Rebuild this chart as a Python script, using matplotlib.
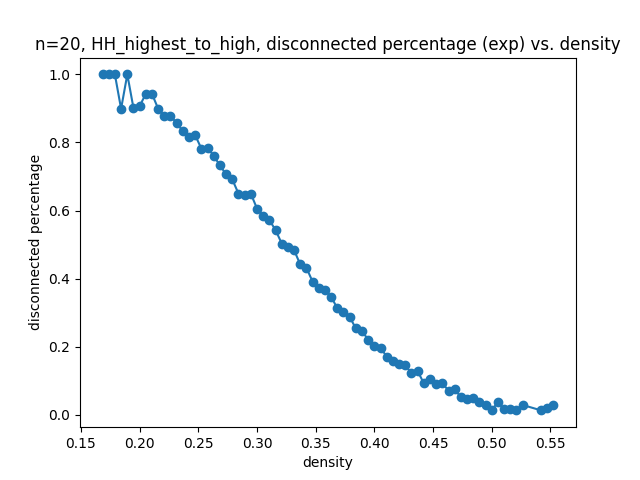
import matplotlib

matplotlib.use("Agg")

import matplotlib.pyplot as plt

# edge density (m / 190 edges), m = 32..100 and 103..105
density = [
    0.1684, 0.1737, 0.1789, 0.1842, 0.1895, 0.1947, 0.2000, 0.2053, 0.2105, 0.2158,
    0.2211, 0.2263, 0.2316, 0.2368, 0.2421, 0.2474, 0.2526, 0.2579, 0.2632, 0.2684,
    0.2737, 0.2789, 0.2842, 0.2895, 0.2947, 0.3000, 0.3053, 0.3105, 0.3158, 0.3211,
    0.3263, 0.3316, 0.3368, 0.3421, 0.3474, 0.3526, 0.3579, 0.3632, 0.3684, 0.3737,
    0.3789, 0.3842, 0.3895, 0.3947, 0.4000, 0.4053, 0.4105, 0.4158, 0.4211, 0.4263,
    0.4316, 0.4368, 0.4421, 0.4474, 0.4526, 0.4579, 0.4632, 0.4684, 0.4737, 0.4789,
    0.4842, 0.4895, 0.4947, 0.5000, 0.5053, 0.5105, 0.5158, 0.5211, 0.5263,
    0.5421, 0.5474, 0.5526,
]

disconnected = [
    1.000, 1.000, 1.000, 0.899, 1.000, 0.902, 0.907, 0.943, 0.943, 0.899,
    0.878, 0.878, 0.857, 0.833, 0.816, 0.821, 0.782, 0.785, 0.760, 0.733,
    0.706, 0.692, 0.650, 0.646, 0.650, 0.606, 0.585, 0.572, 0.543, 0.503,
    0.494, 0.484, 0.442, 0.432, 0.391, 0.374, 0.367, 0.347, 0.313, 0.301,
    0.288, 0.254, 0.247, 0.220, 0.202, 0.197, 0.171, 0.158, 0.150, 0.146,
    0.122, 0.129, 0.093, 0.106, 0.090, 0.093, 0.071, 0.075, 0.052, 0.046,
    0.049, 0.037, 0.029, 0.014, 0.037, 0.017, 0.018, 0.015, 0.029,
    0.013, 0.020, 0.029,
]

fig, ax = plt.subplots(figsize=(6.4, 4.8), dpi=100)
ax.plot(density, disconnected, marker="o")
ax.set_title("n=20, HH_highest_to_high, disconnected percentage (exp) vs. density")
ax.set_xlabel("density")
ax.set_ylabel("disconnected percentage")

fig.savefig("out.png", dpi=100)
plt.close(fig)
